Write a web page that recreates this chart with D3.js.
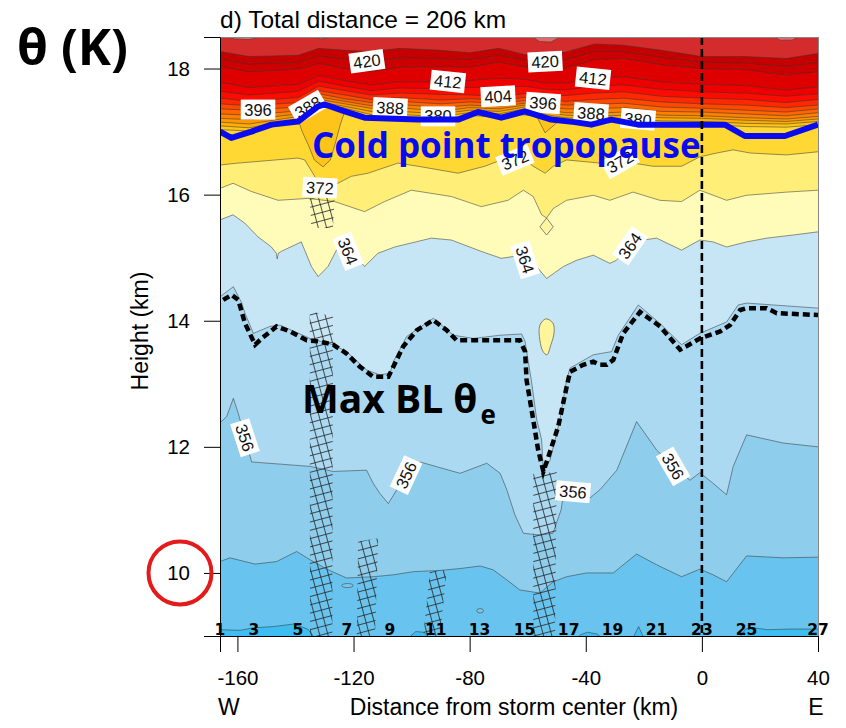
<!DOCTYPE html>
<html>
<head>
<meta charset="utf-8">
<script src="https://cdn.jsdelivr.net/npm/d3@7"></script>
<style>
  body { margin: 0; background: #fff; }
  svg { display: block; }
</style>
</head>
<body>
<svg id="chart" width="846" height="728"></svg>
<script>
// ---------------- data: potential temperature cross-section ----------------
// Isentropes (K) as [distance km, height km]
const th348 = [[-166,9.10],[-159.1,9.09],[-154.4,9.13],[-147.5,9.15],[-140.6,9.19],[-135.8,9.11],[-133,8.95],[-103.8,8.9],[-100.3,9.0],[-98.6,9.07],[-95.8,9.06],[-93.4,8.95],[-43.5,8.95],[-41.8,9.02],[-39.4,9.06],[-36,9.03],[-34.2,8.95],[-23.9,8.95],[-21.8,9.15],[-19.8,8.95],[12.6,8.95],[15,9.11],[17.8,9.13],[22.6,9.10],[30.5,9.11],[40,9.11]];
const th352 = [[-166,10.18],[-162.6,10.24],[-153.9,10.14],[-146.5,10.18],[-139.6,10.34],[-135,10.21],[-129.2,10.06],[-122.4,9.92],[-113.2,9.94],[-106.3,9.97],[-99.4,10.02],[-90.2,10.04],[-83.3,10.07],[-76.4,10.11],[-71.9,10.05],[-67.2,9.89],[-62.7,9.73],[-55.8,9.68],[-51.2,9.86],[-46.6,9.94],[-39.7,10.00],[-30.5,10.00],[-22.5,10.30],[-15.6,10.13],[-7,9.94],[-0.7,10.06],[3.9,9.97],[8.5,9.86],[15.4,10.27],[28,10.24],[40,10.25]];
const th356 = [[-166,12.38],[-163.7,12.48],[-161.4,12.77],[-159.7,12.53],[-155.1,11.76],[-135,11.69],[-127,11.61],[-115.5,11.63],[-113.2,11.42],[-110.9,11.26],[-108,11.10],[-105.1,11.32],[-102.9,11.51],[-97.1,11.76],[-83.3,11.58],[-74.1,11.74],[-69.5,11.58],[-67.2,11.32],[-64.4,10.92],[-61.5,10.63],[-55.8,10.60],[-51.3,10.63],[-48.5,11.0],[-47.5,11.3],[-42,11.28],[-38.5,11.19],[-35.1,11.32],[-29.3,11.63],[-22.5,12.40],[-15.6,11.95],[-9.9,11.69],[-4.1,11.47],[-0.7,11.59],[3.9,11.42],[8.5,11.24],[10.8,11.69],[15.4,12.19],[28,12.06],[40,12.00]];
const th360 = [[-166,14.38],[-161.4,14.54],[-158.5,14.28],[-157.4,14.12],[-154.5,13.80],[-148.8,13.91],[-145.3,13.93],[-135,13.72],[-127,13.62],[-122.4,13.51],[-115.5,13.22],[-110.9,13.14],[-107.4,13.17],[-106.3,13.35],[-101.7,13.75],[-92.5,14.04],[-85.6,13.77],[-78.7,13.72],[-69.5,13.77],[-62.1,13.79],[-60.9,13.67],[-58.6,13.01],[-56.9,12.43],[-55.2,12.11],[-54.6,11.61],[-52.3,11.79],[-48.9,12.43],[-46.6,13.06],[-45.4,13.25],[-37.4,13.46],[-31.1,13.51],[-28.8,13.77],[-21.9,14.25],[-14.5,13.96],[-7,13.62],[-0.7,13.80],[8.5,13.98],[12.5,14.25],[15.4,14.28],[24.6,14.25],[40,14.20]];
const th364 = [[-166,15.60],[-161.5,15.68],[-157.5,15.55],[-152.9,15.33],[-148.3,15.17],[-146.6,15.07],[-146.3,14.98],[-145.9,15.07],[-144.9,15.10],[-140.3,15.20],[-138,15.25],[-134.5,14.86],[-132.2,14.70],[-128.8,14.86],[-125.9,15.12],[-124.8,15.12],[-120.2,15.09],[-116.2,14.86],[-111.6,15.07],[-105.8,15.17],[-93.2,15.31],[-86.3,15.28],[-76,15.10],[-69.1,14.99],[-63.3,15.03],[-56.9,14.86],[-53.5,14.67],[-47.7,14.86],[-43.1,14.96],[-37.4,15.04],[-31.7,14.91],[-29.4,14.96],[-24.8,15.19],[-20.2,15.28],[-15.6,15.31],[-7,15.12],[-0.7,15.28],[3.9,15.25],[8.5,15.17],[15.4,15.25],[22.3,15.31],[31.5,15.36],[40,15.41]];
const th368 = [[-166,16.10],[-161.5,16.18],[-155.2,16.05],[-146,15.91],[-135.7,15.94],[-126.5,15.89],[-116.2,15.73],[-109.3,15.89],[-100.1,16.07],[-86.3,15.97],[-76,15.81],[-66.8,15.91],[-61.5,16.07],[-58.1,15.97],[-55.2,15.68],[-53.5,15.63],[-51.2,15.78],[-46.6,15.91],[-37.4,15.99],[-31.7,15.91],[-23.7,16.04],[-14.5,15.91],[-7,15.89],[-0.7,16.07],[8.5,15.91],[15.4,15.99],[29.2,16.04],[40,16.07]];
const th372 = [[-166,16.47],[-159.8,16.50],[-139.1,16.58],[-136.8,16.55],[-133.5,16.30],[-131.6,16.11],[-125.4,16.18],[-120.8,16.29],[-115,16.34],[-104.7,16.50],[-97.8,16.45],[-84,16.34],[-74.8,16.45],[-69.1,16.55],[-60.9,16.55],[-58.1,16.45],[-54,16.34],[-51.2,16.45],[-46.6,16.55],[-35.1,16.50],[-27.5,16.52],[-23.7,16.50],[-16.8,16.45],[-7,16.45],[-0.7,16.60],[5.1,16.66],[10.8,16.71],[16.6,16.66],[29.2,16.63],[40,16.68]];
const th376 = [[-166,17.03],[-156,17.01],[-145,17.10],[-139,17.17],[-137.5,16.98],[-135.5,16.78],[-133.5,16.55],[-130.5,16.44],[-128,16.55],[-126.5,16.78],[-124.5,17.12],[-123,17.32],[-114,17.22],[-104,17.21],[-90,17.19],[-80,17.26],[-70,17.22],[-63,17.27],[-57,17.25],[-54,16.98],[-50,17.14],[-47,17.17],[-37,17.14],[-27,17.16],[-14,17.12],[0,17.12],[15,17.08],[29,17.07],[40,17.11]];

// Stratospheric isentropes share one set of distance columns (km)
const thCols = [-166,-156,-139,-132,-123,-114,-104,-90,-80,-70,-61,-54,-47,-37,-27,-14,0,15,29,40];
const th380 = [17.09,17.06,17.20,17.44,17.37,17.27,17.27,17.24,17.30,17.28,17.36,17.27,17.22,17.19,17.21,17.17,17.16,17.13,17.12,17.16];
const th384 = [17.15,17.12,17.24,17.47,17.40,17.32,17.32,17.28,17.34,17.32,17.39,17.31,17.26,17.24,17.26,17.22,17.21,17.18,17.16,17.20];
const th388 = [17.21,17.19,17.28,17.51,17.44,17.37,17.38,17.32,17.38,17.36,17.42,17.35,17.30,17.29,17.31,17.26,17.25,17.22,17.20,17.24];
const th392 = [17.28,17.26,17.33,17.55,17.48,17.41,17.43,17.38,17.42,17.40,17.45,17.40,17.36,17.36,17.38,17.32,17.31,17.28,17.25,17.30];
const th396 = [17.36,17.34,17.39,17.60,17.52,17.46,17.48,17.44,17.47,17.45,17.49,17.45,17.42,17.43,17.45,17.39,17.37,17.34,17.31,17.36];
const th400 = [17.44,17.41,17.46,17.65,17.58,17.51,17.54,17.50,17.52,17.50,17.54,17.51,17.48,17.51,17.53,17.47,17.44,17.42,17.38,17.42];
const th404 = [17.53,17.48,17.54,17.72,17.65,17.58,17.61,17.59,17.58,17.56,17.60,17.59,17.57,17.61,17.63,17.56,17.53,17.51,17.46,17.51];
const th408 = [17.64,17.58,17.64,17.80,17.72,17.65,17.69,17.68,17.70,17.70,17.72,17.67,17.66,17.72,17.74,17.67,17.63,17.61,17.56,17.60];
const th412 = [17.78,17.70,17.75,17.89,17.81,17.74,17.79,17.79,17.81,17.85,17.83,17.77,17.77,17.85,17.87,17.79,17.75,17.73,17.66,17.71];
const th416 = [18.03,17.95,17.99,18.08,18.00,17.95,18.02,18.03,18.02,18.10,18.03,17.98,18.01,18.14,18.16,18.06,18.00,17.98,17.90,17.95];
const th420 = [18.15,18.07,18.10,18.20,18.15,18.11,18.17,18.16,18.14,18.21,18.13,18.11,18.14,18.27,18.27,18.18,18.10,18.09,18.03,18.10];
const th424 = [18.27,18.19,18.21,18.32,18.29,18.27,18.32,18.29,18.25,18.32,18.22,18.23,18.26,18.39,18.37,18.29,18.19,18.19,18.16,18.24];
const th428 = [[-166,18.52],[-161,18.47],[-156,18.46],[-150,18.52],[-136,18.52],[-131,18.47],[-126,18.52],[-59,18.52],[-56,18.43],[-52,18.42],[-48,18.52],[24,18.52],[27,18.45],[31,18.45],[34,18.52],[40,18.52]];

// Small closed isentropes
const island364 = [[-53.7,14.03],[-51.3,13.96],[-50.9,13.82],[-52.0,13.62],[-53.4,13.46],[-54.7,13.51],[-55.8,13.69],[-55.8,13.93]];
const island368 = [[-53.5,15.63],[-51.2,15.49],[-53.5,15.36],[-55.8,15.49]];
const cell352 = [[-122.1,9.80,2.0,0.032],[-76.4,9.40,1.15,0.035]]; // centre km, centre height, half-width km, half-height km

// Cold point tropopause and max boundary-layer theta-e level
const tropopause = [[-166,17.00],[-162.1,16.90],[-155.2,17.00],[-148.3,17.11],[-139.1,17.16],[-132.2,17.40],[-129.9,17.43],[-123,17.32],[-116.2,17.22],[-97.8,17.19],[-84,17.19],[-77.1,17.31],[-69.1,17.22],[-61,17.32],[-51.9,17.19],[-43.8,17.15],[-38.1,17.11],[-31.2,17.19],[-22,17.11],[7.9,17.11],[14.8,16.93],[28.6,16.93],[40,17.11]];
const maxBLthetaE = [[-164.9,14.33],[-162,14.41],[-159.7,14.33],[-157.4,13.96],[-153.9,13.62],[-151.6,13.72],[-146.5,13.91],[-141.9,13.83],[-136.1,13.69],[-131.6,13.67],[-127,13.62],[-122.4,13.48],[-117.8,13.27],[-113.2,13.11],[-108,13.11],[-106.3,13.27],[-102.9,13.59],[-98.2,13.85],[-92.5,14.01],[-87.9,13.85],[-84.5,13.69],[-62.7,13.69],[-60.9,13.51],[-60.4,13.06],[-58.1,12.43],[-56.4,11.95],[-54.6,11.61],[-52.9,11.84],[-49.5,12.32],[-46.6,12.95],[-45.4,13.19],[-40.9,13.30],[-37.4,13.35],[-35.1,13.30],[-32.8,13.30],[-30.5,13.38],[-27.1,13.80],[-21.3,14.14],[-14.4,13.91],[-7.5,13.54],[-0.6,13.72],[6.3,13.83],[9.7,13.93],[13.2,14.17],[15.4,14.20],[22.3,14.20],[25.8,14.12],[40,14.09]];

// Hatched strips (km, height)
const hatchStrips = [
  [[-135.1,14.15],[-127.1,14.07],[-127.3,9],[-135,9]],
  [[-135.1,15.94],[-126.5,15.97],[-127.1,15.47],[-134.5,15.47]],
  [[-118.4,10.50],[-111.5,10.55],[-112.6,9],[-118.9,9]],
  [[-93.7,10.02],[-87.9,10.05],[-90.2,9],[-96.0,9]],
  [[-58.1,11.57],[-50.0,11.60],[-50.6,9],[-58.1,9]]
];

// Contour levels (K) and fill colour of the band above each level
const levels = [348,352,356,360,364,368,372,376,380,384,388,392,396,400,404,408,412,416,420,424,428];
const bandColors = ['#68c4ee','#8ecdec','#abd9f1','#c6e5f5','#fffbb8','#ffef78','#ffd833','#ffc41a','#ffae00','#ff9800','#ff8000','#ff6600','#ff4800','#ff2800','#fc0c00','#ee0000','#de0000','#cc0000','#c60000','#d42c2c','#e26a6a'];
const belowColor = '#3dbdf0';

// Contour labels: level, distance (km), text angle
const labelLevel = [420,396,388,388,380,412,404,420,396,412,388,380,372,372,372,364,364,364,356,356,356,356];
const labelKm    = [-115.4,-152.9,-135.7,-107.4,-90.9,-87.5,-70.2,-54,-54.7,-37.5,-38.2,-22,-131.6,-64.4,-28.2,-121.9,-60.9,-24.8,-157.4,-101.9,-44.4,-9.9];
const labelAngle = [-8,0,-30,3,0,6,-3,-3,4,6,4,5,3,-22,-30,68,72,-55,72,-65,5,60];

// Dropsonde numbers along the bottom
const sondeKm = [-166,-154.3,-139.2,-122.3,-107.5,-91.7,-76.6,-61.1,-45.9,-30.8,-15.6,0,15.4,40];
const sondeNum = [1,3,5,7,9,11,13,15,17,19,21,23,25,27];

const xMajor = [-160,-120,-80,-40,0,40];
const yMajor = [10,12,14,16,18];

// ---------------- drawing ----------------
const svg = d3.select('#chart');
const L = 220, R = 818, T = 37, B = 636;
const x = d3.scaleLinear().domain([-166, 40]).range([L, R]);
const y = d3.scaleLinear().domain([9, 18.5]).range([B, T]);

const upper = {380:th380,384:th384,388:th388,392:th392,396:th396,400:th400,404:th404,408:th408,412:th412,416:th416,420:th420,424:th424};
const lineOf = {348:th348,352:th352,356:th356,360:th360,364:th364,368:th368,372:th372,376:th376,428:th428};
Object.keys(upper).forEach(k => { lineOf[k] = thCols.map((c, i) => [c, upper[k][i]]); });

const defs = svg.append('defs');
defs.append('clipPath').attr('id', 'plotClip')
  .append('rect').attr('x', L).attr('y', T).attr('width', R - L).attr('height', B - T);
const pat = defs.append('pattern').attr('id', 'hatch')
  .attr('patternUnits', 'userSpaceOnUse').attr('width', 8).attr('height', 8)
  .attr('patternTransform', 'rotate(-15)');
pat.append('path').attr('d', 'M0,0.5H8M0.5,0V8')
  .attr('stroke', '#262626').attr('stroke-width', 0.8).attr('fill', 'none');

const plot = svg.append('g').attr('clip-path', 'url(#plotClip)');
plot.append('rect').attr('x', L).attr('y', T).attr('width', R - L).attr('height', B - T).attr('fill', belowColor);

const area = d3.area().x(d => x(d[0])).y0(d => y(d[1])).y1(T - 6);
const line = d3.line().x(d => x(d[0])).y(d => y(d[1]));
const closed = d3.line().x(d => x(d[0])).y(d => y(d[1])).curve(d3.curveLinearClosed);

// filled bands, painted bottom to top
levels.forEach((lv, i) => {
  plot.append('path').datum(lineOf[lv]).attr('d', area).attr('fill', bandColors[i]);
});

// small closed contours
plot.append('path').datum(island364)
  .attr('d', d3.line().x(d => x(d[0])).y(d => y(d[1])).curve(d3.curveCatmullRomClosed))
  .attr('fill', '#fff59a').attr('stroke', '#555').attr('stroke-width', 0.7);
plot.append('path').datum(island368).attr('d', closed)
  .attr('fill', '#fff6a0').attr('stroke', '#555').attr('stroke-width', 0.7);
cell352.forEach(c => {
  plot.append('ellipse')
    .attr('cx', x(c[0])).attr('cy', y(c[1]))
    .attr('rx', x(c[0] + c[2]) - x(c[0])).attr('ry', y(c[1]) - y(c[1] + c[3]))
    .attr('fill', '#74c8ee').attr('stroke', '#555').attr('stroke-width', 0.7);
});

// contour lines
levels.forEach(lv => {
  plot.append('path').datum(lineOf[lv]).attr('d', line)
    .attr('fill', 'none').attr('stroke', '#333').attr('stroke-width', 0.7).attr('stroke-opacity', 0.75);
});

// hatching
hatchStrips.forEach(s => {
  plot.append('path').datum(s).attr('d', closed).attr('fill', 'url(#hatch)');
});

// contour labels sit on their own isentrope
function heightAt(pts, km) {
  for (let i = 0; i < pts.length - 1; i++) {
    const a = pts[i], b = pts[i + 1];
    if (km >= a[0] && km <= b[0]) return a[1] + (b[1] - a[1]) * (km - a[0]) / (b[0] - a[0]);
  }
  return pts[pts.length - 1][1];
}
labelLevel.forEach((lv, i) => {
  const km = labelKm[i];
  const g = plot.append('g')
    .attr('transform', `translate(${x(km)},${y(heightAt(lineOf[lv], km))}) rotate(${labelAngle[i]})`);
  const r = g.append('rect').attr('fill', '#fff');
  const t = g.append('text').text(lv)
    .attr('text-anchor', 'middle').attr('dy', '0.36em')
    .attr('font-family', 'Liberation Sans, Arial, sans-serif').attr('font-size', 16.5).attr('fill', '#111');
  const w = t.node().getComputedTextLength() + 7;
  r.attr('x', -w / 2).attr('y', -10).attr('width', w).attr('height', 20);
});

// max BL theta-e level
plot.append('path').datum(maxBLthetaE).attr('d', line)
  .attr('fill', 'none').attr('stroke', '#000').attr('stroke-width', 4.5)
  .attr('stroke-dasharray', '7,4');

// cold point tropopause
plot.append('path').datum(tropopause).attr('d', line)
  .attr('fill', 'none').attr('stroke', '#0b0bf0').attr('stroke-width', 6).attr('stroke-linejoin', 'round');

// storm centre
plot.append('line').attr('x1', x(0)).attr('x2', x(0)).attr('y1', T).attr('y2', B)
  .attr('stroke', '#000').attr('stroke-width', 2.6).attr('stroke-dasharray', '8,4');

// annotations
svg.append('text').attr('x', 312).attr('y', 158)
  .attr('font-family', 'Open Sans, sans-serif').attr('font-weight', 700).attr('font-size', 35)
  .attr('fill', '#0a0aee').text('Cold point tropopause');
const mx = svg.append('text').attr('x', 302).attr('y', 413)
  .attr('font-family', 'Open Sans, sans-serif').attr('font-weight', 700).attr('font-size', 39)
  .attr('fill', '#000');
mx.append('tspan').text('Max BL θ');
mx.append('tspan').attr('dx', 3).attr('dy', 11).attr('font-size', 26).text('e');

// frame
svg.append('line').attr('x1', L).attr('x2', R).attr('y1', T + 0.5).attr('y2', T + 0.5).attr('stroke', '#888');
svg.append('line').attr('x1', R + 0.5).attr('x2', R + 0.5).attr('y1', T).attr('y2', B).attr('stroke', '#888');

// axes
const fontAxis = 'Liberation Sans, Arial, sans-serif';
const gx = svg.append('g').attr('transform', `translate(0,${B})`);
gx.call(d3.axisBottom(x).tickValues(d3.range(-160, 41, 10)).tickSize(7).tickFormat(''));
gx.call(d3.axisBottom(x).tickValues(xMajor).tickSize(16).tickPadding(18).tickFormat(d => String(d)));
gx.selectAll('text').attr('font-family', fontAxis).attr('font-size', 20.5).attr('fill', '#000');
gx.selectAll('path.domain').attr('stroke', '#000');

const gy = svg.append('g').attr('transform', `translate(${L},0)`);
gy.call(d3.axisLeft(y).tickValues(d3.range(9, 18.51, 0.5)).tickSize(7).tickFormat(''));
gy.call(d3.axisLeft(y).tickValues(yMajor).tickSize(16).tickPadding(14).tickFormat(d => String(d)));
gy.selectAll('text').attr('font-family', fontAxis).attr('font-size', 20.5).attr('fill', '#000');
gy.selectAll('path.domain').attr('stroke', '#000');

// dropsonde numbers
svg.append('g').selectAll('text').data(sondeNum).join('text')
  .attr('x', (d, i) => x(sondeKm[i])).attr('y', B - 1)
  .attr('text-anchor', 'middle')
  .attr('font-family', 'DejaVu Sans, sans-serif').attr('font-weight', 700).attr('font-size', 15.5)
  .attr('fill', '#000').text(d => d);

// titles
svg.append('text').attr('x', 220).attr('y', 28)
  .attr('font-family', fontAxis).attr('font-size', 24.5).attr('fill', '#000')
  .text('d) Total distance = 206 km');
svg.append('text').attr('transform', 'translate(148,331) rotate(-90)')
  .attr('text-anchor', 'middle').attr('font-family', fontAxis).attr('font-size', 23).attr('fill', '#000')
  .text('Height (km)');
svg.append('text').attr('x', 514).attr('y', 715).attr('text-anchor', 'middle')
  .attr('font-family', fontAxis).attr('font-size', 23).attr('fill', '#000')
  .text('Distance from storm center (km)');
svg.append('text').attr('x', 218).attr('y', 715)
  .attr('font-family', fontAxis).attr('font-size', 23).attr('fill', '#000').text('W');
svg.append('text').attr('x', 816).attr('y', 715).attr('text-anchor', 'middle')
  .attr('font-family', fontAxis).attr('font-size', 23).attr('fill', '#000').text('E');

svg.append('text').attr('x', 17).attr('y', 65)
  .attr('font-family', 'Open Sans, sans-serif').attr('font-weight', 700).attr('font-size', 50)
  .attr('fill', '#000').text('θ (K)');

// highlight around the 10 km label
svg.append('circle').attr('cx', 180).attr('cy', y(10)).attr('r', 31.5)
  .attr('fill', 'none').attr('stroke', '#e31b1b').attr('stroke-width', 4);
</script>
</body>
</html>
